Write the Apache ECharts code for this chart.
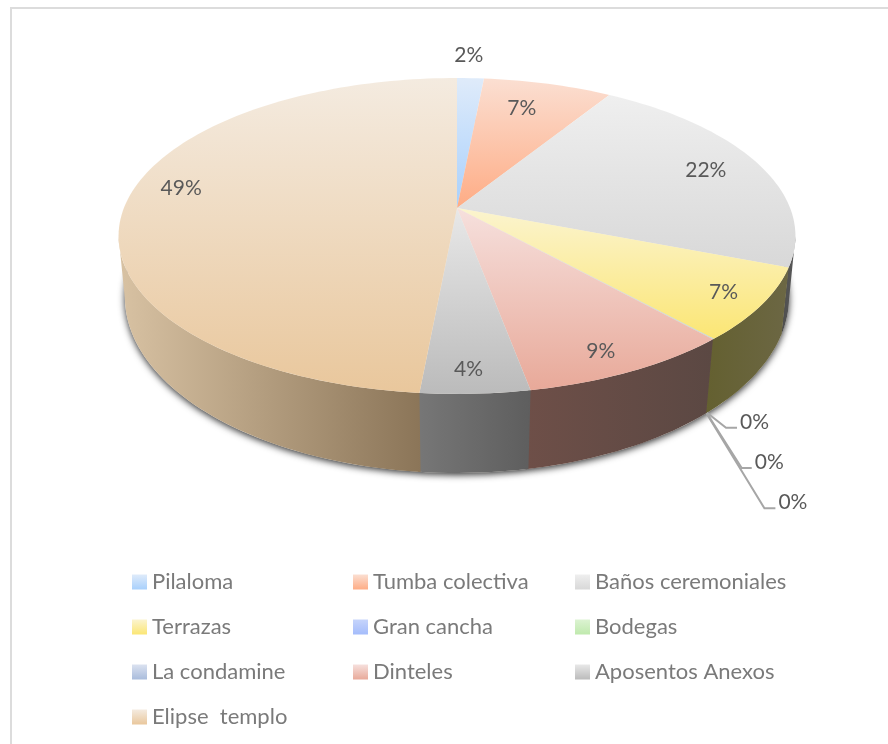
<!DOCTYPE html>
<html><head><meta charset="utf-8">
<style>html,body{margin:0;padding:0;background:#fff}#c{width:888px;height:744px}</style>
<script src="https://cdn.jsdelivr.net/npm/echarts@6/dist/echarts.min.js"></script>
</head><body><div id="c"></div>
<script>
// ---- data ----
const categories = ['Pilaloma','Tumba colectiva','Baños ceremoniales','Terrazas','Gran cancha','Bodegas','La condamine','Dinteles','Aposentos Anexos','Elipse  templo'];
const values = [1.52, 7.3, 22.1, 7.4, 0.02, 0.02, 0.02, 8.7, 4.4, 48.52];
const legendColumns = [[0,3,6,9],[1,4,7],[2,5,8]];

// ---- styles ----
const topColors = [['#dfebfa','#a8d0fc'],['#fbdfd2','#feac85'],['#efefef','#d8d8d8'],['#fbf4cf','#fbe674'],['#c6d4fb','#a4bcfb'],['#dcf3d2','#bfe9ad'],['#dbe2f0','#a9bcdc'],['#f6e0dd','#e8a999'],['#e8e8e8','#bbbbbb'],['#f4ebe0','#e9c79c']];
const sideColors = [['#6f7f90','#6f7f90'],['#8a6a58','#8a6a58'],['#4d4d4d','#5a5a5a'],['#646030','#6c6744'],['#6a7596','#6a7596'],['#74866a','#74866a'],['#6a7488','#6a7488'],['#6e4f48','#5b4843'],['#777777','#5e5e5e'],['#d8c2a3','#8b7558']];
const labelRadius = [1.21,0.77,0.824,0.886,0,0,0,0.8836,0.8875,0.858];
const labelAngleShift = [-0.7,-2,0,0,0,0,0,1.4,0.7,6.3];
const leaderKnee = {4:[19,15,11],5:[35,55,10],6:[58,95,11]};
const legendX = [132,353,575], legendTop = 571, rowStep = 45;
const textFont = 'Lato';
const labelSize = 21, legendSize = 22;
const sideOverlap = 0.4;

// ---- perspective disc ----
const T = {cx:457, cy:208, A:333.1, B:153, k:0.177};  // top face
const F = {cx:457, cy:267.8, A:327.5, B:171.1, k:0.166}; // base
const D2R = Math.PI/180;
function proj(d, deg, r){
  r = r===undefined?1:r;
  const x=r*Math.sin(deg*D2R), y=r*Math.cos(deg*D2R), w=1+d.k*y;
  return [d.cx+d.A*x/w, d.cy-d.B*y/w];
}
const total = values.reduce((a,b)=>a+b,0);
function startDeg(i){ let s=0; for(let j=0;j<i;j++) s+=values[j]; return s/total*360; }
function arc(d,a,b){ const n=Math.max(2,Math.ceil((b-a)/1.5)), p=[]; for(let i=0;i<=n;i++) p.push(proj(d,a+(b-a)*i/n)); return p; }
const sideMin = 180-(Math.acos(T.k)/D2R), sideMax = 360-sideMin;
const lin=(c,h)=>({type:'linear',x:0,y:0,x2:h?1:0,y2:h?0:1,colorStops:[{offset:0,color:c[0]},{offset:1,color:c[1]}]});

function renderSlice(i){
  return function(){
    const a=startDeg(i), b=a+values[i]/total*360, children=[];
    const sa=Math.max(a,sideMin), sb=Math.min(b+sideOverlap,sideMax);
    if(b>sideMin && sb>sa && values[i]>=1){
      const pts=arc(T,sa,sb).concat(arc(F,sa,sb).reverse());
      children.push({type:'polygon',z2:1,shape:{points:pts},style:{fill:lin(sideColors[i],true)}});
    }
    const face=[[T.cx,T.cy]].concat(arc(T,a,b));
    children.push({type:'polygon',z2:2,shape:{points:face},style:{fill:lin(topColors[i],false)}});
    const txt=Math.round(values[i]/total*100)+'%';
    const mid=(a+b)/2;
    const font=labelSize+'px '+textFont;
    if(leaderKnee[i]){
      const o=proj(F,mid), q=leaderKnee[i];
      const k1=[o[0]+q[0],o[1]+q[1]], k2=[k1[0]+q[2],k1[1]];
      children.push({type:'polyline',z2:3,shape:{points:[o,k1,k2]},style:{fill:null,stroke:'#a6a6a6',lineWidth:2}});
      children.push({type:'text',z2:4,style:{x:k2[0]+3,y:k1[1]-6,text:txt,fill:'#595959',font,align:'left',verticalAlign:'middle'}});
    } else {
      const lp=proj(T,mid+labelAngleShift[i],labelRadius[i]);
      children.push({type:'text',z2:4,style:{x:lp[0],y:lp[1],text:txt,fill:'#595959',font,align:'center',verticalAlign:'middle'}});
    }
    return {type:'group',children};
  };
}
const series = categories.map((name,i)=>({
  type:'custom',name,coordinateSystem:'none',data:[values[i]],silent:true,
  itemStyle:{color:lin(topColors[i],false)},
  renderItem:renderSlice(i)
}));
series.unshift({type:'custom',name:'base',coordinateSystem:'none',data:[1],silent:true,renderItem(){
  const pts=arc(F,0,360);
  return {type:'polygon',z2:0,shape:{points:pts},style:{fill:'#f4f0ea',shadowBlur:7,shadowColor:'rgba(0,0,0,0.8)',shadowOffsetY:2}};
}});
const legend = legendColumns.map((col,c)=>({
  orient:'vertical',left:legendX[c],top:legendTop,height:170,padding:0,itemGap:rowStep-22,itemWidth:15,itemHeight:15,icon:'rect',
  data:col.map(i=>categories[i]),selectedMode:false,
  textStyle:{color:'#7a7a7a',fontSize:legendSize,fontFamily:textFont}
}));
const chart=echarts.init(document.getElementById('c'),null,{renderer:'canvas'});
chart.setOption({animation:false,backgroundColor:'#fff',legend,series,tooltip:{show:false},
  graphic:[{type:'rect',z:-1,shape:{x:11,y:8,width:900,height:760},style:{fill:'#fff',stroke:'#dcdcdc',lineWidth:2}}]});
</script></body></html>
